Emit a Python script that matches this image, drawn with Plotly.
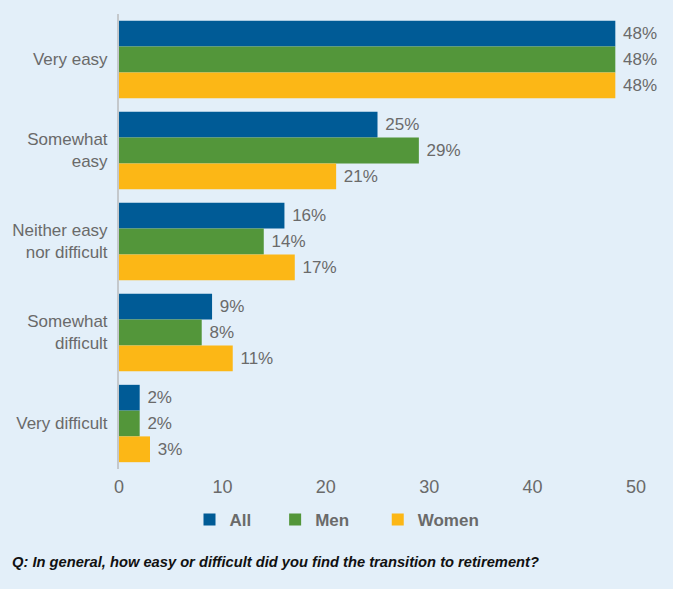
import plotly.graph_objects as go

categories = ["Very easy", "Somewhat<br>easy", "Neither easy<br>nor difficult",
              "Somewhat<br>difficult", "Very difficult"]
series_names = ["All", "Men", "Women"]
all_vals = [48, 25, 16, 9, 2]
men_vals = [48, 29, 14, 8, 2]
women_vals = [48, 21, 17, 11, 3]
colors = ["#005b96", "#53963a", "#fcb716"]
x_ticks = [0, 10, 20, 30, 40, 50]
caption = "Q: In general, how easy or difficult did you find the transition to retirement?"

FONT = "Liberation Sans, Arial, sans-serif"
GRAY = "#6a6a6a"
BG = "#e3eff9"
NBSP = "\u00a0"

W, H = 676, 589
ML, MR, MT, MB = 119, 40, 14, 120
PW = W - ML - MR
PH = H - MT - MB

# legend entries padded so the items spread out like a printed key
legend_pad = [4, 5, 0]

fig = go.Figure()
for name, vals, col, pad in zip(series_names, [all_vals, men_vals, women_vals], colors, legend_pad):
    fig.add_trace(go.Bar(
        name=name + NBSP * pad, y=categories, x=vals, orientation="h",
        marker=dict(color=col, line=dict(width=0)),
        text=[f" {v}%" for v in vals], textposition="outside",
        textfont=dict(family=FONT, size=17, color=GRAY),
        cliponaxis=False,
    ))

fig.update_layout(
    width=W, height=H,
    margin=dict(l=ML, r=MR, t=MT, b=MB),
    paper_bgcolor=BG, plot_bgcolor=BG,
    barmode="group", bargap=0.15, bargroupgap=0,
    font=dict(family=FONT, color=GRAY),
    xaxis=dict(range=[0, 50], tickvals=x_ticks, showgrid=False, zeroline=False,
               showline=False, ticks="outside", ticklen=1, tickcolor="rgba(0,0,0,0)",
               tickfont=dict(family=FONT, size=18, color=GRAY), automargin=False),
    yaxis=dict(autorange="reversed", showgrid=False, showline=True,
               linecolor="#c4c8cc", linewidth=2, ticks="outside", ticklen=6,
               tickcolor="rgba(0,0,0,0)", automargin=False,
               tickfont=dict(family=FONT, size=17, color=GRAY)),
    legend=dict(orientation="h", x=(337 - ML) / PW, xanchor="center",
                y=-(520 - (MT + PH)) / PH, yanchor="middle",
                bgcolor="rgba(0,0,0,0)", itemwidth=30,
                font=dict(family=FONT, size=17, color=GRAY, weight="bold"),
                traceorder="normal"),
    showlegend=True,
)

fig.add_annotation(
    text=f"<b><i>{caption}</i></b>", xref="paper", yref="paper",
    x=(10 - ML) / PW, xanchor="left", y=-(562 - (MT + PH)) / PH, yanchor="middle",
    showarrow=False, font=dict(family=FONT, size=14.7, color="#111111"),
)

# thin white strip along the right edge of the page
fig.add_shape(type="rect", xref="paper", yref="paper", layer="above",
              x0=(673 - ML) / PW, x1=(680 - ML) / PW, y0=-1, y1=2,
              fillcolor="white", line=dict(width=0))

fig.write_html("out.html")
